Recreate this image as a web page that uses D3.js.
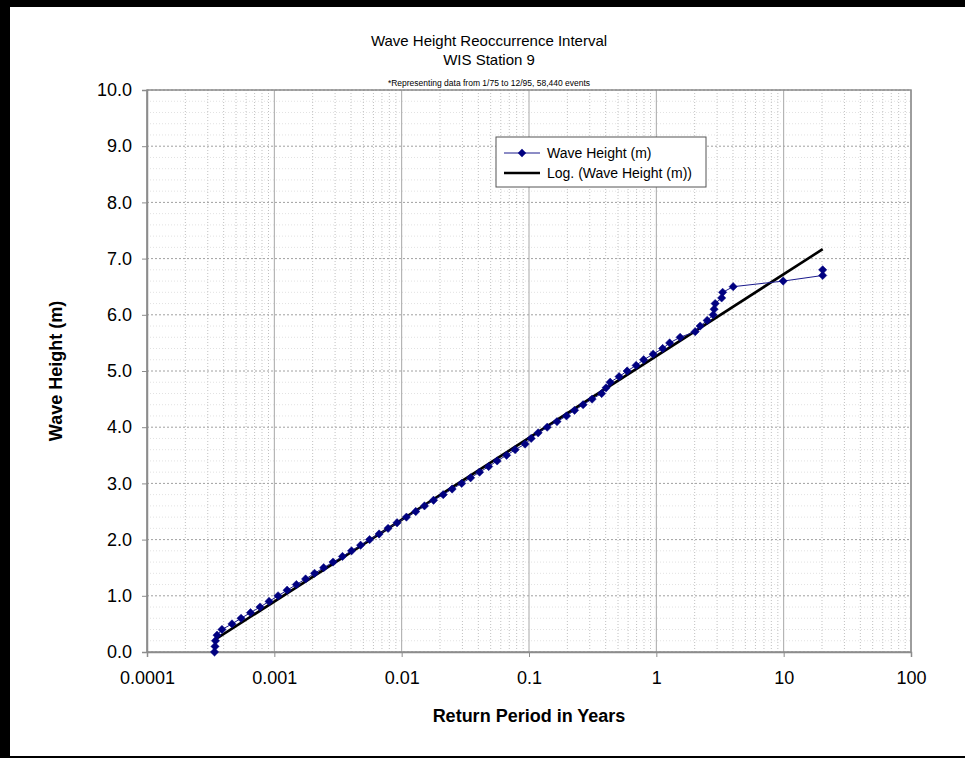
<!DOCTYPE html>
<html>
<head>
<meta charset="utf-8">
<script src="https://cdn.jsdelivr.net/npm/d3@7"></script>
<style>
  body { margin: 0; background: #fff; }
  text { font-family: "Liberation Sans", Arial, sans-serif; fill: #000; }
</style>
</head>
<body>
<svg id="chart" width="965" height="758"></svg>
<script>
// wave heights (m) and their return periods (years)
const heights = [0.0, 0.1, 0.2, 0.3, 0.4, 0.5, 0.6, 0.7, 0.8, 0.9,
    1.0, 1.1, 1.2, 1.3, 1.4, 1.5, 1.6, 1.7, 1.8, 1.9,
    2.0, 2.1, 2.2, 2.3, 2.4, 2.5, 2.6, 2.7, 2.8, 2.9,
    3.0, 3.1, 3.2, 3.3, 3.4, 3.5, 3.6, 3.7, 3.8, 3.9,
    4.0, 4.1, 4.2, 4.3, 4.4, 4.5, 4.6, 4.7, 4.8, 4.9,
    5.0, 5.1, 5.2, 5.3, 5.4, 5.5, 5.6, 5.7, 5.8, 5.9,
    6.0, 6.1, 6.2, 6.3, 6.4, 6.5, 6.6, 6.7, 6.8];
const returnYears = [0.000339, 0.000342, 0.000345, 0.000355, 0.000388, 0.000465, 0.000548, 0.000650, 0.000772, 0.000909,
    0.00107, 0.00126, 0.00149, 0.00176, 0.00207, 0.00244, 0.00289, 0.00343, 0.00404, 0.00476,
    0.00560, 0.00665, 0.00782, 0.00920, 0.0109, 0.0129, 0.0151, 0.0178, 0.0212, 0.0249,
    0.0296, 0.0348, 0.0409, 0.0482, 0.0562, 0.0667, 0.0778, 0.0932, 0.104, 0.118,
    0.139, 0.166, 0.197, 0.228, 0.266, 0.313, 0.372, 0.403, 0.434, 0.510,
    0.590, 0.694, 0.795, 0.944, 1.121, 1.272, 1.538, 2.018, 2.209, 2.507,
    2.795, 2.844, 2.897, 3.258, 3.317, 4.012, 9.91, 20.25, 20.25];

const xTicks = [0.0001, 0.001, 0.01, 0.1, 1, 10, 100];
const yTicks = [0, 1, 2, 3, 4, 5, 6, 7, 8, 9, 10];

// Excel log trendline  y = a*ln(x) + b
const trendA = 0.6323;
const trendB = 5.266;

const titleLines = ["Wave Height Reoccurrence Interval", "WIS Station 9"];
const subTitle = "*Representing data from 1/75 to 12/95, 58,440 events";
const seriesName = "Wave Height (m)";
const trendName = "Log. (Wave Height (m))";

const margin = { top: 90, right: 54, bottom: 106, left: 147 };
const W = 965, H = 758;
const width = W - margin.left - margin.right;
const height = H - margin.top - margin.bottom;

const svg = d3.select("#chart");

// black frame strips of the original scan
svg.append("rect").attr("x", 0).attr("y", 0).attr("width", W).attr("height", 7).attr("fill", "#000");
svg.append("rect").attr("x", 0).attr("y", 0).attr("width", 10).attr("height", H).attr("fill", "#000");
svg.append("rect").attr("x", 0).attr("y", H - 2).attr("width", W).attr("height", 2).attr("fill", "#000");

const g = svg.append("g").attr("transform", `translate(${margin.left},${margin.top})`);

const x = d3.scaleLog().domain([0.0001, 100]).range([0, width]);
const y = d3.scaleLinear().domain([0, 10]).range([height, 0]);

// minor grid
const minorX = [];
xTicks.slice(0, -1).forEach(t => { for (let k = 2; k <= 9; k++) minorX.push(t * k); });
g.append("g").selectAll("line").data(minorX).join("line")
    .attr("x1", d => x(d)).attr("x2", d => x(d))
    .attr("y1", 0).attr("y2", height)
    .attr("stroke", "#c0c0c0").attr("stroke-width", 1).attr("stroke-dasharray", "1,2");

const minorY = d3.range(0, 50).filter(i => i % 5 !== 0).map(i => i / 5);
g.append("g").selectAll("line").data(minorY).join("line")
    .attr("x1", 0).attr("x2", width)
    .attr("y1", d => y(d)).attr("y2", d => y(d))
    .attr("stroke", "#e2e2e2").attr("stroke-width", 1).attr("stroke-dasharray", "1,2");

// major grid
g.append("g").selectAll("line").data(yTicks).join("line")
    .attr("x1", 0).attr("x2", width)
    .attr("y1", d => y(d)).attr("y2", d => y(d))
    .attr("stroke", "#a0a0a0").attr("stroke-width", 1).attr("stroke-dasharray", "2,2");

g.append("g").selectAll("line").data(xTicks).join("line")
    .attr("x1", d => x(d)).attr("x2", d => x(d))
    .attr("y1", 0).attr("y2", height)
    .attr("stroke", "#a8a8a8").attr("stroke-width", 1);

// plot border
g.append("rect").attr("width", width).attr("height", height)
    .attr("fill", "none").attr("stroke", "#8c8c8c").attr("stroke-width", 1.5);

// axes
const xAxis = d3.axisBottom(x).tickValues(xTicks).tickFormat(d => String(d)).tickSize(5).tickPadding(14);
const yAxis = d3.axisLeft(y).tickValues(yTicks).tickFormat(d3.format(".1f")).tickSize(5).tickPadding(10);

const gx = g.append("g").attr("transform", `translate(0,${height})`).call(xAxis);
const gy = g.append("g").call(yAxis);
[gx, gy].forEach(a => {
    a.select(".domain").attr("stroke", "#8c8c8c").attr("stroke-width", 1.5);
    a.selectAll(".tick line").attr("stroke", "#8c8c8c");
    a.selectAll(".tick text").attr("font-size", 18).attr("font-family", "Liberation Sans, Arial, sans-serif");
});

// trendline
const xMin = d3.min(returnYears), xMax = d3.max(returnYears);
const trendPts = [xMin, xMax].map(v => ({ x: v, y: trendA * Math.log(v) + trendB }));
g.append("path").datum(trendPts)
    .attr("fill", "none").attr("stroke", "#000").attr("stroke-width", 2.6)
    .attr("d", d3.line().x(d => x(d.x)).y(d => y(d.y)));

// series
const data = heights.map((h, i) => ({ x: returnYears[i], y: h }));
g.append("path").datum(data)
    .attr("fill", "none").attr("stroke", "#1a1a8c").attr("stroke-width", 1)
    .attr("d", d3.line().x(d => x(d.x)).y(d => y(d.y)));

const diamond = d3.symbol().type(d3.symbolDiamond2).size(44);
g.append("g").selectAll("path").data(data).join("path")
    .attr("transform", d => `translate(${x(d.x)},${y(d.y)})`)
    .attr("d", diamond)
    .attr("fill", "#000080").attr("stroke", "#000080").attr("stroke-width", 0.5);

// titles
svg.selectAll(".title").data(titleLines).join("text")
    .attr("class", "title")
    .attr("x", 489).attr("y", (d, i) => 46 + i * 19)
    .attr("text-anchor", "middle").attr("font-size", 15)
    .text(d => d);
svg.append("text").attr("x", 489).attr("y", 86)
    .attr("text-anchor", "middle").attr("font-size", 8.5)
    .text(subTitle);

svg.append("text")
    .attr("x", margin.left + width / 2).attr("y", 722)
    .attr("text-anchor", "middle").attr("font-size", 18).attr("font-weight", "bold")
    .text("Return Period in Years");
svg.append("text")
    .attr("transform", `translate(62,${margin.top + height / 2}) rotate(-90)`)
    .attr("text-anchor", "middle").attr("font-size", 18).attr("font-weight", "bold")
    .text("Wave Height (m)");

// legend
const lg = svg.append("g").attr("transform", "translate(496,137)");
lg.append("rect").attr("width", 210).attr("height", 50)
    .attr("fill", "#fff").attr("stroke", "#555").attr("stroke-width", 1);
const row1 = lg.append("g").attr("transform", "translate(0,16)");
row1.append("line").attr("x1", 8).attr("x2", 44).attr("stroke", "#1a1a8c").attr("stroke-width", 1);
row1.append("path").attr("transform", "translate(26,0)").attr("d", diamond).attr("fill", "#000080");
row1.append("text").attr("x", 51).attr("y", 5).attr("font-size", 14).text(seriesName);
const row2 = lg.append("g").attr("transform", "translate(0,36)");
row2.append("line").attr("x1", 8).attr("x2", 44).attr("stroke", "#000").attr("stroke-width", 2.6);
row2.append("text").attr("x", 51).attr("y", 5).attr("font-size", 14).text(trendName);
</script>
</body>
</html>
